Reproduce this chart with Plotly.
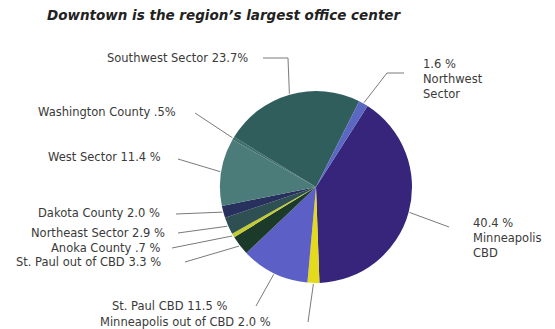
import math
import plotly.graph_objects as go

W, H = 555, 329

# Office space share by area (percent), listed clockwise from the Minneapolis CBD
areas = ["Minneapolis CBD", "Minneapolis out of CBD", "St. Paul CBD",
         "St. Paul out of CBD", "Anoka County", "Northeast Sector",
         "Dakota County", "West Sector", "Washington County",
         "Southwest Sector", "Northwest Sector"]
shares = [40.4, 2.0, 11.5, 3.3, 0.7, 2.9, 2.0, 11.4, 0.5, 23.7, 1.6]
share_labels = ["40.4 %<br>Minneapolis<br>CBD", "Minneapolis out of CBD 2.0 %",
                "St. Paul CBD 11.5 %", "St. Paul out of CBD 3.3 %",
                "Anoka County .7 %", "Northeast Sector 2.9 %",
                "Dakota County 2.0 %", "West Sector 11.4 %",
                "Washington County .5%", "Southwest Sector 23.7%",
                "1.6 %<br>Northwest<br>Sector"]
colors = ["#36257a", "#e4da1c", "#5b5fc6", "#1c3a2a", "#c4cc30", "#2e5052",
          "#28305e", "#4c7c7a", "#3f6f6c", "#2f5e5d", "#5a68c2"]

# pie geometry in pixels
CX, CY, R = 316, 187, 96
ROT = 32.5

# label anchors: (text x, text y, xanchor, elbow points towards the pie)
label_pos = {
    "Minneapolis CBD": (471, 238, "left", [(449, 227)]),
    "Minneapolis out of CBD": (273, 322, "right", [(308, 322)]),
    "St. Paul CBD": (229, 306, "right", [(256, 306)]),
    "St. Paul out of CBD": (163, 262, "right", [(185, 262)]),
    "Anoka County": (163, 248, "right", [(172, 248)]),
    "Northeast Sector": (167, 233, "right", [(178, 233)]),
    "Dakota County": (162, 213, "right", [(176, 214)]),
    "West Sector": (163, 157, "right", [(178, 159)]),
    "Washington County": (178, 112, "right", [(195, 113)]),
    "Southwest Sector": (250, 58, "right", [(263, 58), (288, 58)]),
    "Northwest Sector": (421, 79, "left", [(404, 73), (387, 73)]),
}


def paper(px, py):
    return px / W, 1 - py / H


fig = go.Figure()
fig.add_trace(go.Pie(
    labels=areas, values=shares, sort=False, direction="clockwise",
    rotation=ROT, textinfo="none", hoverinfo="label+percent",
    marker=dict(colors=colors, line=dict(width=0)),
    domain=dict(x=[(CX - R) / W, (CX + R) / W],
                y=[1 - (CY + R) / H, 1 - (CY - R) / H]),
    showlegend=False,
))

shapes = []
annotations = []
total = sum(shares)
start = ROT
for name, val, txt in zip(areas, shares, share_labels):
    span = val / total * 360
    mid = math.radians(start + span / 2)
    start += span
    ex, ey = CX + (R + 1) * math.sin(mid), CY - (R + 1) * math.cos(mid)
    tx, ty, anchor, elbow = label_pos[name]
    pts = elbow + [(ex, ey)]
    path = "M " + " L ".join(f"{paper(x, y)[0]:.4f},{paper(x, y)[1]:.4f}" for x, y in pts)
    shapes.append(dict(type="path", xref="paper", yref="paper", path=path,
                       line=dict(color="#7a7a7a", width=1)))
    ax, ay = paper(tx, ty)
    annotations.append(dict(x=ax, y=ay, xref="paper", yref="paper", text=txt,
                            showarrow=False, xanchor=anchor, yanchor="middle",
                            align=anchor,
                            font=dict(family="DejaVu Sans", size=11.5, color="#3a3a3a")))

annotations.append(dict(
    x=45 / W, y=1 - 15 / H, xref="paper", yref="paper", xanchor="left",
    yanchor="middle", showarrow=False,
    text="<b><i>Downtown is the region’s largest office center</i></b>",
    font=dict(family="DejaVu Sans", size=13.5, color="#222222")))

fig.update_layout(width=W, height=H, margin=dict(l=0, r=0, t=0, b=0),
                  paper_bgcolor="white", plot_bgcolor="white",
                  shapes=shapes, annotations=annotations)
fig.write_html("out.html")
